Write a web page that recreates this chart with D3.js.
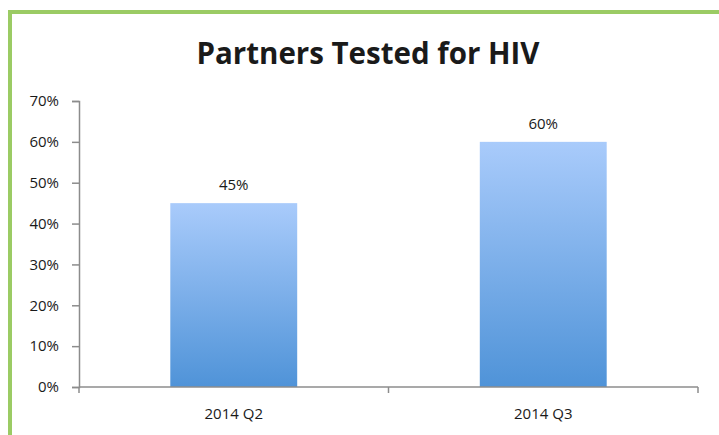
<html lang="en">
<head>
    <meta charset="UTF-8"/>
    <title>Partners Tested for HIV</title>
    <style>
        body { margin: 0; background: #fff; }
        svg { display: block; }
        text { font-family: "Open Sans", sans-serif; fill: #1a1a1a; }
    </style>
</head>
<body>
<svg width="719" height="435"></svg>
<script src="https://d3js.org/d3.v7.min.js"></script>
<script>
    const categories = ["2014 Q2", "2014 Q3"];
    const values = [0.45, 0.60];
    const yTicks = [0, 0.1, 0.2, 0.3, 0.4, 0.5, 0.6, 0.7];

    const svg = d3.select("svg");

    // green frame, clipped by the window on right and bottom
    svg.append("rect")
        .attr("x", 10).attr("y", 12)
        .attr("width", 760).attr("height", 480)
        .attr("fill", "#fff")
        .attr("stroke", "#9bcb64")
        .attr("stroke-width", 4);

    svg.append("text")
        .attr("x", 368).attr("y", 64)
        .attr("text-anchor", "middle")
        .style("font-weight", "bold")
        .style("font-size", "29.5px")
        .attr("fill", "#000")
        .text("Partners Tested for HIV");

    const x = d3.scaleBand().domain(categories).range([79, 698]).padding(0);
    const y = d3.scaleLinear().domain([0, 0.7]).range([387, 101]);

    const defs = svg.append("defs");
    const grad = defs.append("linearGradient")
        .attr("id", "barGrad")
        .attr("x1", 0).attr("y1", 0).attr("x2", 0).attr("y2", 1);
    grad.append("stop").attr("offset", "0%").attr("stop-color", "#a9cbfb");
    grad.append("stop").attr("offset", "100%").attr("stop-color", "#4f93d8");

    const barW = x.bandwidth() * 0.41;

    // y axis
    const yAxis = svg.append("g")
        .attr("transform", "translate(79,0)")
        .call(d3.axisLeft(y).tickValues(yTicks).tickFormat(d3.format(".0%")).tickSizeOuter(0).tickSize(7).tickPadding(13));
    yAxis.selectAll("line, path").attr("stroke", "#8c8c8c").attr("stroke-width", 1.5);
    yAxis.selectAll("text").style("font-size", "15px").attr("fill", "#1a1a1a").style("font-family", "Open Sans, sans-serif");

    // bars
    svg.append("g").selectAll("rect")
        .data(values)
        .join("rect")
        .attr("x", (d, i) => x(categories[i]) + (x.bandwidth() - barW) / 2)
        .attr("y", d => y(d))
        .attr("width", barW)
        .attr("height", d => y(0) - y(d))
        .attr("fill", "url(#barGrad)");

    // x axis
    const xAxis = svg.append("g")
        .attr("transform", "translate(0,387)");
    xAxis.append("line")
        .attr("x1", 79).attr("x2", 698)
        .attr("stroke", "#8c8c8c").attr("stroke-width", 1.5);
    xAxis.selectAll("line.tick")
        .data([79, ...categories.map(c => x(c) + x.bandwidth())])
        .join("line")
        .attr("class", "tick")
        .attr("x1", d => d).attr("x2", d => d)
        .attr("y1", 0).attr("y2", 6)
        .attr("stroke", "#8c8c8c").attr("stroke-width", 1.5);
    xAxis.selectAll("text")
        .data(categories)
        .join("text")
        .attr("x", d => x(d) + x.bandwidth() / 2)
        .attr("y", 32)
        .attr("text-anchor", "middle")
        .style("font-size", "15px")
        .text(d => d);

    // value labels
    svg.append("g").selectAll("text")
        .data(values)
        .join("text")
        .attr("x", (d, i) => x(categories[i]) + x.bandwidth() / 2)
        .attr("y", d => y(d) - 13)
        .attr("text-anchor", "middle")
        .style("font-size", "15px")
        .text(d => d3.format(".0%")(d));
</script>
</body>
</html>
